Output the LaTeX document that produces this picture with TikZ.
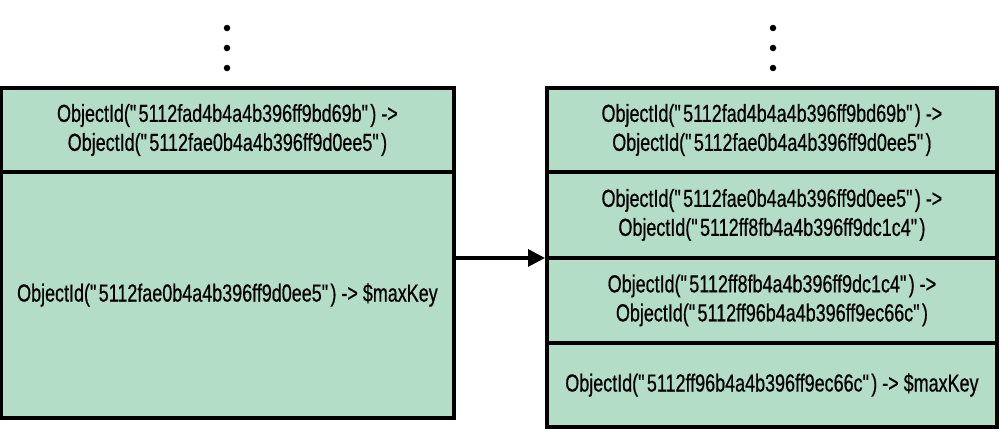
\documentclass[tikz,border=0pt]{standalone}
\usepackage{fontspec}
\setmainfont[FakeStretch=0.73, FakeBold=0.6]{Liberation Sans}
\usepackage{tikz}
\usetikzlibrary{arrows.meta}
\usetikzlibrary{positioning}
\definecolor{cellgreen}{RGB}{180,221,200}
\newcommand{\qt}{\textquotedbl}

\begin{document}
\begin{tikzpicture}[x=0.02cm,y=-0.02cm,
        cell/.style={draw, fill=cellgreen, line width=1.9pt, rectangle, align=center,
                     outer sep=0pt, inner sep=0pt, font=\fontsize{14}{16.5}\selectfont},
        lcell/.style={cell, minimum width=9.06cm},
        rcell/.style={cell, minimum width=9.0cm},
        dot/.style={circle, fill, inner sep=0pt, minimum size=0.13cm}]
        \useasboundingbox (0,0) rectangle (1000,430);
        % left part of the chunk
        \node[lcell, minimum height=1.68cm, anchor=north west] (l1) at (1,88)
            {ObjectId(\qt5112fad4b4a4b396ff9bd69b\qt) ->\\ObjectId(\qt5112fae0b4a4b396ff9d0ee5\qt)};
        \node[lcell, minimum height=4.92cm, below=0pt of l1] (l2)
            {ObjectId(\qt5112fae0b4a4b396ff9d0ee5\qt) -> \$maxKey};
        % right part, after the split
        \node[rcell, minimum height=1.68cm, anchor=north west] (r1) at (547,88)
            {ObjectId(\qt5112fad4b4a4b396ff9bd69b\qt) ->\\ObjectId(\qt5112fae0b4a4b396ff9d0ee5\qt)};
        \node[rcell, minimum height=1.72cm, below=0pt of r1] (r2)
            {ObjectId(\qt5112fae0b4a4b396ff9d0ee5\qt) ->\\ObjectId(\qt5112ff8fb4a4b396ff9dc1c4\qt)};
        \node[rcell, minimum height=1.70cm, below=0pt of r2] (r3)
            {ObjectId(\qt5112ff8fb4a4b396ff9dc1c4\qt) ->\\ObjectId(\qt5112ff96b4a4b396ff9ec66c\qt)};
        \node[rcell, minimum height=1.68cm, below=0pt of r3] (r4)
            {ObjectId(\qt5112ff96b4a4b396ff9ec66c\qt) -> \$maxKey};
        % dots above
        \foreach \y/\n in {28/a,48/b,68/c} {
            \node[dot] (ld\n) at (227,\y) {};
            \node[dot] (rd\n) at (773,\y) {};
        }
        \draw[line width=1.9pt, -{Triangle[length=0.34cm, width=0.34cm]}, shorten >=0.04cm]
            (l2.east |- r2.south) -- (r2.south west);
\end{tikzpicture}
\end{document}
